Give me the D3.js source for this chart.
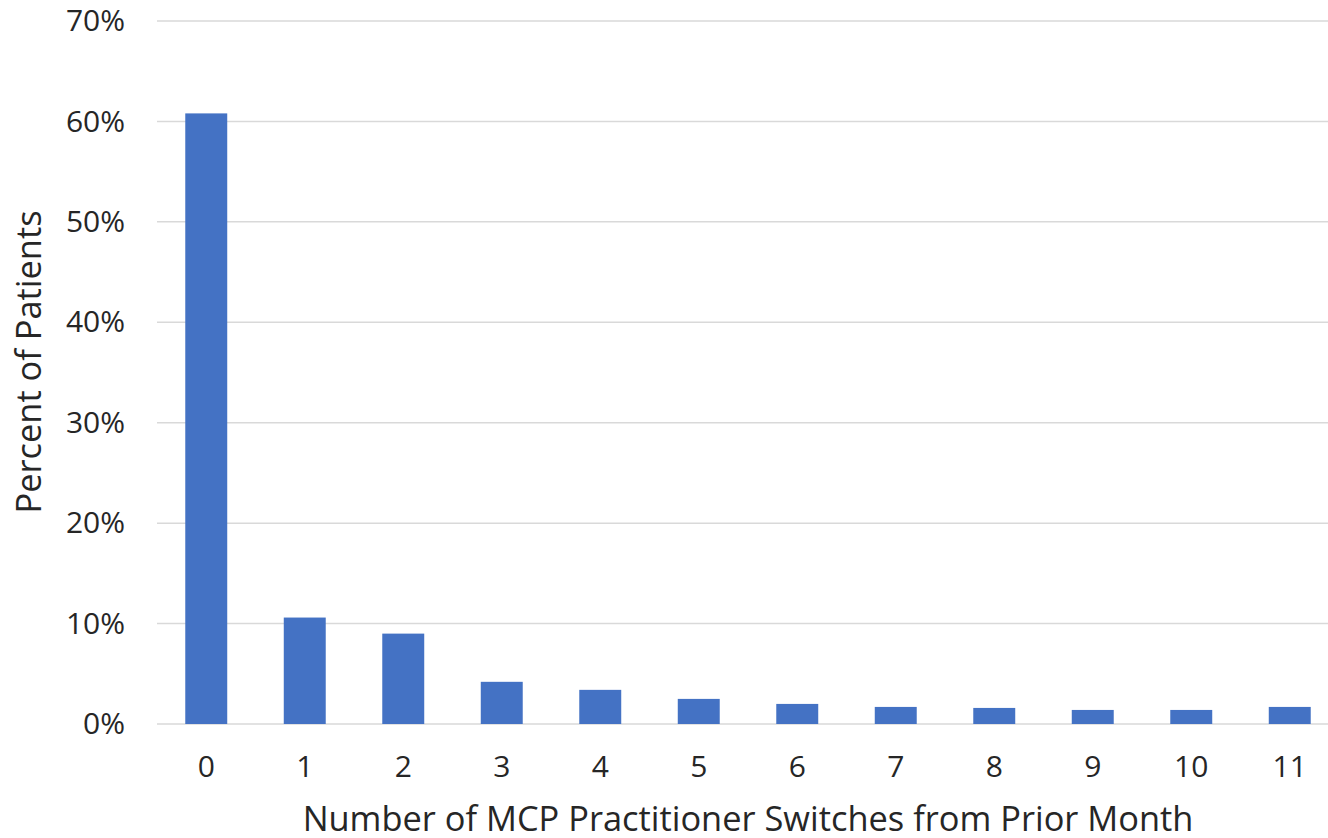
<!DOCTYPE html>
<html><head><meta charset="utf-8">
<script src="https://cdn.jsdelivr.net/npm/d3@7"></script>
<style>body{margin:0;background:#fff}svg{display:block}</style>
</head><body>
<svg id="c" width="1328" height="838"></svg>
<script>
const categories = ["0","1","2","3","4","5","6","7","8","9","10","11"];
const values = [60.8, 10.6, 9.0, 4.2, 3.4, 2.5, 2.0, 1.7, 1.6, 1.4, 1.4, 1.7];
const yTicks = [0,10,20,30,40,50,60,70];
const xTitle = "Number of MCP Practitioner Switches from Prior Month";
const yTitle = "Percent of Patients";

const W = 1328, H = 838;
const m = {left:157, right:1339, top:21, bottom:724};
const svg = d3.select("#c");
const font = "'Open Sans', sans-serif";
const tc = "#262626";

const x = d3.scaleBand().domain(categories).range([m.left, m.right]).paddingInner(0.574).paddingOuter(0.287);
const y = d3.scaleLinear().domain([0,70]).range([m.bottom, m.top]);

svg.append("g").selectAll("line").data(yTicks).join("line")
  .attr("x1", m.left).attr("x2", W).attr("y1", d=>y(d)).attr("y2", d=>y(d))
  .attr("stroke", "#d9d9d9").attr("stroke-width", 1.5);

svg.append("g").selectAll("rect").data(values).join("rect")
  .attr("x", (d,i)=>x(categories[i])).attr("width", x.bandwidth())
  .attr("y", d=>y(d)).attr("height", d=>y(0)-y(d))
  .attr("fill", "#4472C4");

const yAxis = d3.axisLeft(y).tickValues(yTicks).tickFormat(d=>d+"%").tickSize(0).tickPadding(0);
const ga = svg.append("g").attr("transform", `translate(125,0)`).call(yAxis);
ga.select(".domain").remove();
ga.selectAll("text").attr("font-family", font).attr("font-size", 30).attr("fill", tc);

const xAxis = d3.axisBottom(x).tickSize(0).tickPadding(0);
const gx = svg.append("g").attr("transform", `translate(0,756)`).call(xAxis);
gx.select(".domain").remove();
gx.selectAll("text").attr("font-family", font).attr("font-size", 30).attr("fill", tc);

svg.append("text").attr("x", 748).attr("y", 831).attr("text-anchor","middle")
  .attr("font-family", font).attr("font-size", 34.4).attr("fill", tc).text(xTitle);
svg.append("text").attr("transform","translate(41,362) rotate(-90)").attr("text-anchor","middle")
  .attr("font-family", font).attr("font-size", 34.4).attr("fill", tc).text(yTitle);
</script>
</body></html>
